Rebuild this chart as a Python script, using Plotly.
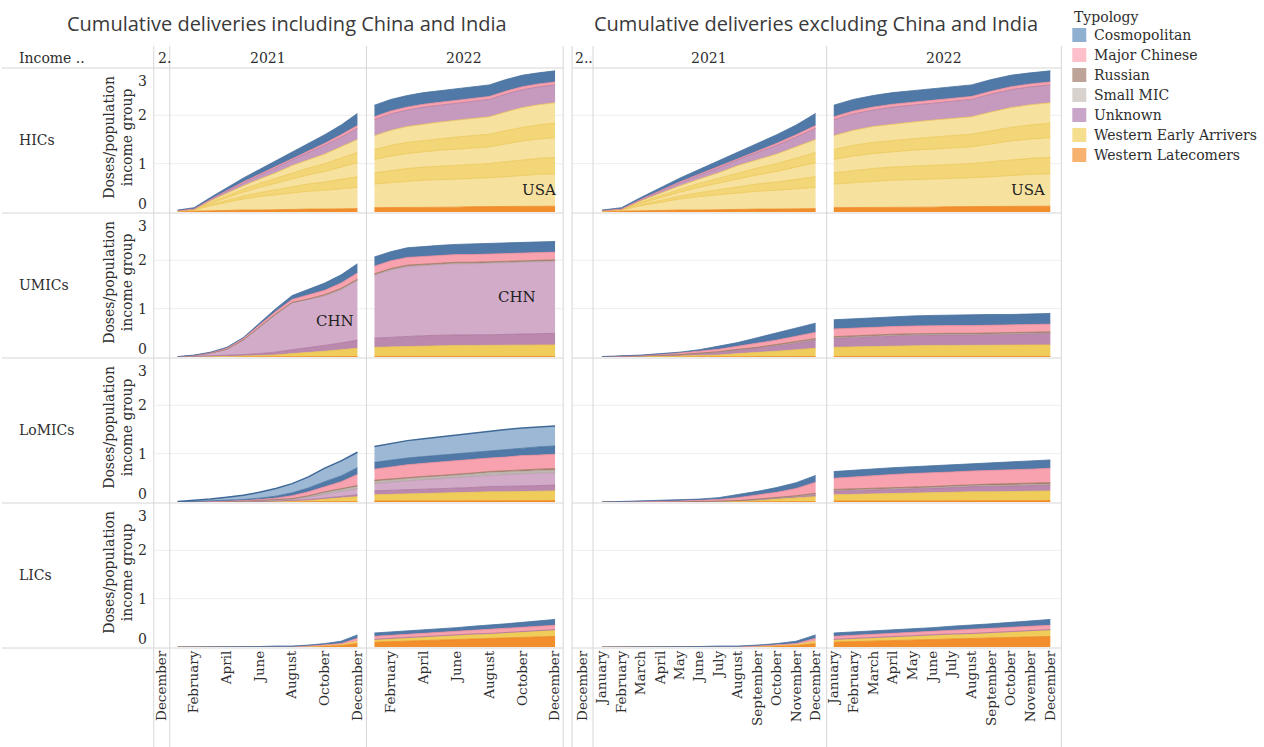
import plotly.graph_objects as go

W, H = 1264, 747

# ---------------------------------------------------------------------------
# Data: cumulative vaccine doses delivered per population of each income group,
# monthly from January 2021 to December 2022 (24 values per series).
# ---------------------------------------------------------------------------
MONTH_NAMES = ["January", "February", "March", "April", "May", "June", "July",
               "August", "September", "October", "November", "December"]
MONTH_INDEX = [1, 2, 3, 4, 5, 6, 7, 8, 9, 10, 11, 12]
LEFT_TICKS = [2, 4, 6, 8, 10, 12]
RIGHT_TICKS = [1, 2, 3, 4, 5, 6, 7, 8, 9, 10, 11, 12]
YEARS = ["2021", "2022"]
ROW_LABELS = ["HICs", "UMICs", "LoMICs", "LICs"]
BLOCK_TITLES = ["Cumulative deliveries including China and India",
                "Cumulative deliveries excluding China and India"]
TYPOLOGY = ["Cosmopolitan", "Major Chinese", "Russian", "Small MIC", "Unknown",
            "Western Early Arrivers", "Western Latecomers"]

# High-income countries
hic_latecomers = [0.01, 0.02, 0.03, 0.03, 0.04, 0.04, 0.05, 0.05, 0.06, 0.06, 0.07, 0.07,
                  0.09, 0.09, 0.10, 0.10, 0.10, 0.10, 0.11, 0.11, 0.11, 0.12, 0.12, 0.12]
hic_early_usa = [0.01, 0.02, 0.10, 0.17, 0.23, 0.28, 0.31, 0.34, 0.37, 0.39, 0.41, 0.44,
                 0.49, 0.52, 0.54, 0.56, 0.57, 0.58, 0.59, 0.60, 0.62, 0.64, 0.66, 0.67]
hic_early_a = [0.00, 0.00, 0.02, 0.04, 0.06, 0.08, 0.10, 0.13, 0.15, 0.17, 0.20, 0.22,
               0.23, 0.25, 0.26, 0.27, 0.28, 0.28, 0.29, 0.29, 0.31, 0.32, 0.33, 0.34]
hic_early_b = [0.01, 0.01, 0.03, 0.06, 0.08, 0.11, 0.14, 0.17, 0.19, 0.22, 0.25, 0.29,
               0.28, 0.30, 0.31, 0.32, 0.33, 0.34, 0.34, 0.35, 0.37, 0.39, 0.40, 0.41]
hic_early_c = [0.00, 0.00, 0.02, 0.04, 0.06, 0.08, 0.10, 0.12, 0.14, 0.16, 0.19, 0.21,
               0.20, 0.22, 0.23, 0.23, 0.24, 0.25, 0.25, 0.26, 0.27, 0.28, 0.29, 0.30]
hic_early_d = [0.00, 0.00, 0.03, 0.05, 0.07, 0.09, 0.11, 0.15, 0.17, 0.20, 0.23, 0.27,
               0.29, 0.31, 0.33, 0.34, 0.34, 0.35, 0.36, 0.36, 0.39, 0.41, 0.42, 0.42]
hic_unknown = [0.00, 0.01, 0.02, 0.04, 0.06, 0.08, 0.10, 0.12, 0.15, 0.18, 0.20, 0.23,
               0.33, 0.34, 0.34, 0.35, 0.35, 0.35, 0.35, 0.36, 0.37, 0.37, 0.37, 0.37]
hic_chinese = [0.00, 0.00, 0.01, 0.01, 0.02, 0.02, 0.03, 0.03, 0.04, 0.04, 0.05, 0.06,
               0.06, 0.06, 0.06, 0.06, 0.06, 0.06, 0.06, 0.06, 0.06, 0.06, 0.06, 0.06]
hic_cosmo = [0.01, 0.03, 0.04, 0.06, 0.08, 0.10, 0.12, 0.14, 0.16, 0.18, 0.20, 0.25,
             0.24, 0.24, 0.24, 0.24, 0.24, 0.24, 0.24, 0.24, 0.24, 0.24, 0.23, 0.23]

# Upper-middle-income countries
umic_latecomers = [0.00, 0.00, 0.00, 0.00, 0.00, 0.00, 0.00, 0.01, 0.01, 0.01, 0.01, 0.01,
                   0.01, 0.01, 0.01, 0.01, 0.01, 0.01, 0.01, 0.01, 0.01, 0.01, 0.01, 0.01]
umic_early = [0.00, 0.00, 0.01, 0.01, 0.02, 0.03, 0.04, 0.06, 0.08, 0.11, 0.14, 0.17,
              0.19, 0.20, 0.21, 0.22, 0.22, 0.23, 0.23, 0.23, 0.23, 0.23, 0.24, 0.24]
umic_unknown = [0.00, 0.01, 0.01, 0.02, 0.03, 0.04, 0.06, 0.08, 0.10, 0.12, 0.14, 0.17,
                0.19, 0.20, 0.21, 0.21, 0.22, 0.22, 0.22, 0.22, 0.23, 0.23, 0.23, 0.24]
umic_unknown_chn = [0.00, 0.02, 0.06, 0.13, 0.30, 0.55, 0.78, 0.97, 1.00, 1.03, 1.10, 1.23,
                    1.30, 1.39, 1.44, 1.45, 1.46, 1.47, 1.47, 1.48, 1.48, 1.49, 1.49, 1.49]
umic_small_mic = [0.00, 0.00, 0.00, 0.00, 0.00, 0.00, 0.00, 0.00, 0.00, 0.00, 0.01, 0.01,
                  0.01, 0.01, 0.01, 0.01, 0.01, 0.01, 0.01, 0.01, 0.01, 0.01, 0.01, 0.01]
umic_russian = [0.00, 0.00, 0.00, 0.00, 0.00, 0.01, 0.01, 0.01, 0.01, 0.02, 0.02, 0.02,
                0.02, 0.02, 0.02, 0.02, 0.02, 0.02, 0.02, 0.02, 0.02, 0.02, 0.02, 0.02]
umic_chinese = [0.00, 0.00, 0.01, 0.02, 0.03, 0.04, 0.05, 0.06, 0.08, 0.09, 0.11, 0.13,
                0.16, 0.16, 0.16, 0.16, 0.16, 0.16, 0.16, 0.16, 0.16, 0.16, 0.16, 0.16]
umic_cosmo = [0.01, 0.01, 0.01, 0.02, 0.02, 0.03, 0.06, 0.08, 0.12, 0.15, 0.17, 0.19,
              0.19, 0.19, 0.20, 0.21, 0.21, 0.21, 0.22, 0.22, 0.22, 0.22, 0.22, 0.22]

# Lower-middle-income countries
lomic_latecomers = [0.00, 0.00, 0.00, 0.00, 0.00, 0.00, 0.00, 0.00, 0.00, 0.01, 0.01, 0.01,
                    0.02, 0.02, 0.02, 0.02, 0.02, 0.02, 0.03, 0.03, 0.03, 0.03, 0.03, 0.03]
lomic_early = [0.00, 0.00, 0.00, 0.00, 0.01, 0.01, 0.01, 0.02, 0.03, 0.05, 0.07, 0.10,
               0.13, 0.14, 0.15, 0.16, 0.16, 0.17, 0.17, 0.18, 0.18, 0.19, 0.19, 0.20]
lomic_unknown = [0.00, 0.00, 0.00, 0.00, 0.00, 0.00, 0.01, 0.01, 0.02, 0.02, 0.03, 0.04,
                 0.08, 0.08, 0.09, 0.09, 0.10, 0.10, 0.10, 0.11, 0.11, 0.11, 0.12, 0.12]
lomic_unknown_ind = [0.00, 0.00, 0.00, 0.01, 0.01, 0.02, 0.03, 0.03, 0.05, 0.09, 0.11, 0.12,
                     0.15, 0.17, 0.18, 0.19, 0.20, 0.21, 0.22, 0.23, 0.24, 0.25, 0.25, 0.25]
lomic_small_mic = [0.00, 0.00, 0.00, 0.00, 0.00, 0.00, 0.00, 0.00, 0.00, 0.00, 0.01, 0.01,
                   0.01, 0.01, 0.01, 0.01, 0.01, 0.01, 0.02, 0.02, 0.02, 0.02, 0.02, 0.02]
lomic_small_mic_ind = [0.00, 0.00, 0.00, 0.00, 0.00, 0.00, 0.00, 0.01, 0.02, 0.03, 0.03, 0.04,
                       0.04, 0.04, 0.04, 0.04, 0.04, 0.04, 0.04, 0.04, 0.04, 0.04, 0.04, 0.04]
lomic_russian = [0.00, 0.00, 0.00, 0.00, 0.00, 0.00, 0.00, 0.00, 0.01, 0.01, 0.01, 0.02,
                 0.02, 0.02, 0.02, 0.02, 0.02, 0.02, 0.02, 0.02, 0.03, 0.03, 0.03, 0.03]
lomic_chinese = [0.00, 0.00, 0.01, 0.01, 0.01, 0.02, 0.03, 0.06, 0.08, 0.11, 0.15, 0.23,
                 0.23, 0.25, 0.26, 0.27, 0.28, 0.28, 0.28, 0.28, 0.28, 0.29, 0.29, 0.30]
lomic_cosmo = [0.00, 0.01, 0.01, 0.02, 0.02, 0.03, 0.04, 0.06, 0.08, 0.10, 0.12, 0.14,
               0.14, 0.14, 0.14, 0.14, 0.14, 0.15, 0.15, 0.15, 0.16, 0.16, 0.17, 0.17]
lomic_cosmo_ind = [0.01, 0.02, 0.04, 0.06, 0.09, 0.12, 0.16, 0.19, 0.23, 0.28, 0.31, 0.32,
                   0.33, 0.34, 0.36, 0.37, 0.38, 0.39, 0.39, 0.40, 0.41, 0.41, 0.41, 0.41]

# Low-income countries
lic_latecomers = [0.00, 0.00, 0.00, 0.00, 0.00, 0.00, 0.00, 0.00, 0.01, 0.02, 0.03, 0.07,
                  0.10, 0.11, 0.12, 0.13, 0.14, 0.15, 0.16, 0.17, 0.18, 0.19, 0.21, 0.22]
lic_early = [0.00, 0.00, 0.00, 0.00, 0.00, 0.00, 0.00, 0.00, 0.00, 0.01, 0.02, 0.05,
             0.05, 0.06, 0.07, 0.07, 0.08, 0.09, 0.10, 0.10, 0.11, 0.12, 0.12, 0.13]
lic_unknown = [0.00, 0.00, 0.00, 0.00, 0.00, 0.00, 0.00, 0.00, 0.00, 0.00, 0.00, 0.00,
               0.01, 0.01, 0.01, 0.01, 0.01, 0.01, 0.01, 0.01, 0.01, 0.01, 0.01, 0.01]
lic_chinese = [0.00, 0.00, 0.00, 0.00, 0.00, 0.00, 0.00, 0.00, 0.01, 0.01, 0.02, 0.06,
               0.06, 0.06, 0.06, 0.07, 0.07, 0.07, 0.08, 0.08, 0.08, 0.09, 0.09, 0.09]
lic_cosmo = [0.00, 0.00, 0.005, 0.01, 0.01, 0.01, 0.02, 0.02, 0.02, 0.03, 0.05, 0.07,
             0.07, 0.07, 0.07, 0.07, 0.08, 0.08, 0.08, 0.09, 0.10, 0.10, 0.11, 0.12]

# ---------------------------------------------------------------------------
# Styling
# ---------------------------------------------------------------------------
SERIF = "DejaVu Serif"
SANS = "Open Sans"
TEXT = "#2e2e2e"
GRID = "#eeeeee"
RULE = "#d6d6d6"

ORANGE = ("#f28e2b", "#ec8824")
YELLOW_LIGHT = ("#f6e29e", "#ecc655")
YELLOW_MID = ("#f3d677", "#ecc655")
YELLOW_DARK = ("#f0cc5a", "#e9c451")
PURPLE_MID = ("#c699be", "#b07aa1")
PURPLE_DARK = ("#bb88ae", "#a9739b")
PURPLE_LIGHT = ("#d2abc9", "#c29ab9")
GREY = ("#c4bab6", "#b0a6a2")
BROWN = ("#a87f69", "#9c755f")
PINK = ("#f7a2ae", "#ee8a9a")
BLUE = ("#5079a8", "#46709c")
BLUE_LIGHT = ("#9db8d5", "#3f6a98")

LEGEND_SWATCH = ["#8fb0d0", "#fdbfca", "#bea398", "#d8d2cf", "#c9a6c9", "#f6de8f", "#f6b26e"]

# Stack order bottom -> top: (typology, values, colours, only drawn with China/India)
ROWS = [
    [("Western Latecomers", hic_latecomers, ORANGE, False),
     ("Western Early Arrivers", hic_early_usa, YELLOW_LIGHT, False),
     ("Western Early Arrivers", hic_early_a, YELLOW_MID, False),
     ("Western Early Arrivers", hic_early_b, YELLOW_LIGHT, False),
     ("Western Early Arrivers", hic_early_c, YELLOW_MID, False),
     ("Western Early Arrivers", hic_early_d, YELLOW_LIGHT, False),
     ("Unknown", hic_unknown, PURPLE_MID, False),
     ("Major Chinese", hic_chinese, PINK, False),
     ("Cosmopolitan", hic_cosmo, BLUE, False)],
    [("Western Latecomers", umic_latecomers, ORANGE, False),
     ("Western Early Arrivers", umic_early, YELLOW_DARK, False),
     ("Unknown", umic_unknown, PURPLE_DARK, False),
     ("Unknown", umic_unknown_chn, PURPLE_LIGHT, True),
     ("Small MIC", umic_small_mic, GREY, False),
     ("Russian", umic_russian, BROWN, False),
     ("Major Chinese", umic_chinese, PINK, False),
     ("Cosmopolitan", umic_cosmo, BLUE, False)],
    [("Western Latecomers", lomic_latecomers, ORANGE, False),
     ("Western Early Arrivers", lomic_early, YELLOW_DARK, False),
     ("Unknown", lomic_unknown, PURPLE_DARK, False),
     ("Unknown", lomic_unknown_ind, PURPLE_LIGHT, True),
     ("Small MIC", lomic_small_mic, GREY, False),
     ("Small MIC", lomic_small_mic_ind, GREY, True),
     ("Russian", lomic_russian, BROWN, False),
     ("Major Chinese", lomic_chinese, PINK, False),
     ("Cosmopolitan", lomic_cosmo, BLUE, False),
     ("Cosmopolitan", lomic_cosmo_ind, BLUE_LIGHT, True)],
    [("Western Latecomers", lic_latecomers, ORANGE, False),
     ("Western Early Arrivers", lic_early, YELLOW_DARK, False),
     ("Unknown", lic_unknown, PURPLE_DARK, False),
     ("Major Chinese", lic_chinese, PINK, False),
     ("Cosmopolitan", lic_cosmo, BLUE, False)],
]

# ---------------------------------------------------------------------------
# Geometry (pixels)
# ---------------------------------------------------------------------------
ROW_TOP = [67, 212, 357, 502]
ROW_BOTTOM = [212, 357, 502, 647]
ROW_RULES = [68, 213, 358, 503, 648]
BLOCK_NARROW = [(152, 168), (571, 592)]
BLOCK_COLUMNS = [[(168, 365), (365, 562)], [(592, 826), (826, 1061)]]
BLOCK_SPAN = [(0, 562), (571, 1061)]
X_RANGES = [[[0.51, 12.55], [0.51, 12.49]], [[0.54, 12.57], [0.64, 12.56]]]
TICKS = [LEFT_TICKS, RIGHT_TICKS]


def fx(p):
    return p / W


def fy(p):
    return 1 - p / H


def names(i):
    s = "" if i == 1 else str(i)
    return "xaxis" + s, "yaxis" + s, "x" + s, "y" + s


fig = go.Figure()
axes = {}
tick_font = dict(family=SERIF, size=13.5, color=TEXT)
row_axis = {}

for b in range(2):
    for r, series in enumerate(ROWS):
        for c in range(2):
            idx = 1 + b * 8 + r * 2 + c
            xa, ya, xr, yr = names(idx)
            x0, x1 = BLOCK_COLUMNS[b][c]
            axes[xa] = dict(domain=[fx(x0), fx(x1)], range=X_RANGES[b][c], anchor=yr,
                            showgrid=False, zeroline=False, showline=False, ticks="",
                            showticklabels=(r == 3), tickmode="array", tickvals=TICKS[b],
                            ticktext=[MONTH_NAMES[m - 1] for m in TICKS[b]],
                            tickangle=-90, tickfont=tick_font, fixedrange=True)
            axes[ya] = dict(domain=[fy(ROW_BOTTOM[r]), fy(ROW_TOP[r])], range=[0, 3],
                            anchor=xr, visible=False, fixedrange=True)
            if b == 0 and c == 0:
                row_axis[r] = yr
            for typ, values, (fill, edge), incl_only in series:
                if incl_only and b == 1:
                    continue
                vals = values[c * 12:(c + 1) * 12]
                if not any(vals):
                    continue
                fig.add_trace(go.Scatter(
                    x=MONTH_INDEX, y=vals, xaxis=xr, yaxis=yr, stackgroup=f"g{idx}",
                    mode="lines", line=dict(color=edge, width=1.5 if edge == "#3f6a98" else 0.8),
                    fillcolor=fill, name=typ, showlegend=False, hoverinfo="skip"))

# Narrow December-2020 columns in the bottom row
for b, idx in enumerate([17, 18]):
    xa, ya, xr, yr = names(idx)
    x0, x1 = BLOCK_NARROW[b]
    axes[xa] = dict(domain=[fx(x0), fx(x1)], range=[11.5, 12.5], anchor=yr,
                    showgrid=False, zeroline=False, showline=False, ticks="",
                    tickmode="array", tickvals=[12], ticktext=["December"],
                    tickangle=-90, tickfont=tick_font, fixedrange=True)
    axes[ya] = dict(domain=[fy(ROW_BOTTOM[3]), fy(ROW_TOP[3])], range=[0, 3],
                    anchor=xr, visible=False, fixedrange=True)
    fig.add_trace(go.Scatter(x=[12], y=[0], xaxis=xr, yaxis=yr, mode="markers",
                             marker=dict(opacity=0), showlegend=False, hoverinfo="skip"))

# ---------------------------------------------------------------------------
# Grid, rules and table lines
# ---------------------------------------------------------------------------
shapes = []
for r in range(4):
    for v in (1, 2):
        for (a, z) in [(152, 562), (571, 1061)]:
            shapes.append(dict(type="line", xref="paper", yref=row_axis[r],
                               x0=fx(a), x1=fx(z), y0=v, y1=v,
                               line=dict(color=GRID, width=1), layer="below"))
for yline in ROW_RULES:
    for (a, z) in BLOCK_SPAN:
        shapes.append(dict(type="line", xref="paper", yref="paper",
                           x0=fx(a), x1=fx(z), y0=fy(yline), y1=fy(yline),
                           line=dict(color=RULE, width=1), layer="above"))
for xline in [152, 168, 365, 562, 571, 592, 826, 1061]:
    shapes.append(dict(type="line", xref="paper", yref="paper",
                       x0=fx(xline), x1=fx(xline), y0=fy(46), y1=fy(747),
                       line=dict(color=RULE, width=1), layer="above"))

# Legend swatches
for k, colour in enumerate(LEGEND_SWATCH):
    cy = 35 + 20 * k
    shapes.append(dict(type="rect", xref="paper", yref="paper",
                       x0=fx(1072), x1=fx(1086), y0=fy(cy + 7), y1=fy(cy - 7),
                       fillcolor=colour, line=dict(width=0)))

# ---------------------------------------------------------------------------
# Text
# ---------------------------------------------------------------------------
ann = []


def text(x, y, s, size=14, anchor="left", family=SERIF, color=TEXT, **kw):
    ann.append(dict(x=fx(x), y=fy(y), xref="paper", yref="paper", text=s,
                    showarrow=False, xanchor=anchor, yanchor="middle",
                    font=dict(family=family, size=size, color=color), **kw))


text(285, 23, BLOCK_TITLES[0], size=20, anchor="center", family=SANS, color="#3a3a3a")
text(815, 23, BLOCK_TITLES[1], size=20, anchor="center", family=SANS, color="#3a3a3a")

text(15, 58, "Income ..")
text(154, 58, "2.")
text(266, 58, YEARS[0], anchor="center")
text(463, 58, YEARS[1], anchor="center")
text(572, 58, "2..")
text(708, 58, YEARS[0], anchor="center")
text(943, 58, YEARS[1], anchor="center")

for r, label in enumerate(ROW_LABELS):
    text(15, ROW_TOP[r] + 73, label)
    text(116, ROW_TOP[r] + 70, "Doses/population<br>income group", anchor="center",
         textangle=-90)
    for v in (0, 1, 2, 3):
        shift = 8 if v == 0 else (-14 if v == 3 else 0)
        ann.append(dict(x=fx(147), y=v, xref="paper", yref=row_axis[r], text=str(v),
                        showarrow=False, xanchor="right", yanchor="middle", yshift=shift,
                        font=dict(family=SERIF, size=14, color=TEXT)))

# Country call-outs
for xr, yr, xv, yv, s in [("x2", "y2", 11.05, 0.45, "USA"),
                          ("x10", "y10", 10.85, 0.45, "USA"),
                          ("x3", "y3", 10.6, 0.75, "CHN"),
                          ("x4", "y4", 9.7, 1.24, "CHN")]:
    ann.append(dict(x=xv, y=yv, xref=xr, yref=yr, text=s, showarrow=False,
                    xanchor="center", yanchor="middle",
                    font=dict(family=SERIF, size=15, color="#222222")))

# Legend
text(1072, 17, "Typology", size=14)
for k, name in enumerate(TYPOLOGY):
    text(1092, 35 + 20 * k, name, size=14)

fig.update_layout(
    width=W, height=H, autosize=False,
    margin=dict(l=0, r=0, t=0, b=0),
    paper_bgcolor="white", plot_bgcolor="rgba(0,0,0,0)",
    showlegend=False, hovermode=False,
    shapes=shapes, annotations=ann,
    **axes,
)

fig.write_html("out.html")
